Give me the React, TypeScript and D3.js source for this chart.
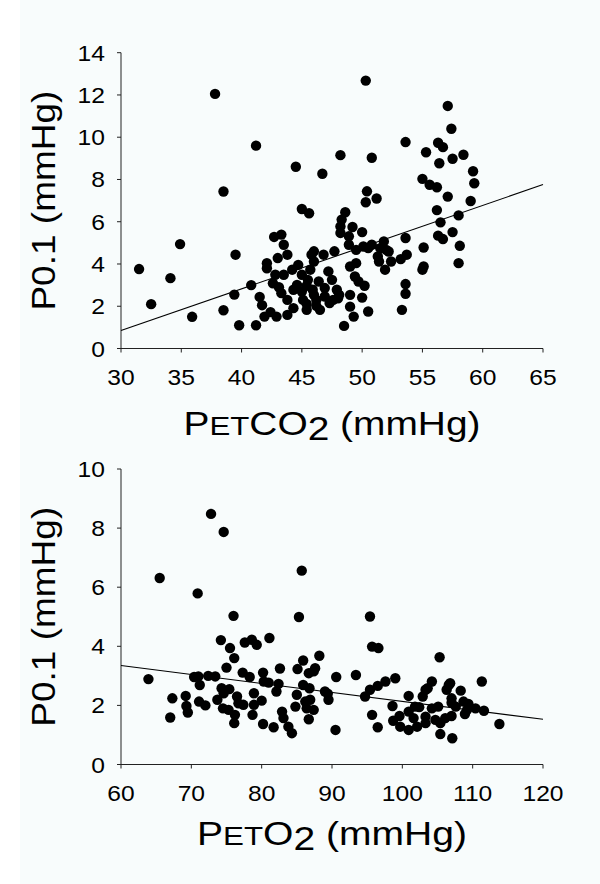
import React from "react";
import * as d3 from "d3";

// ---------- data ----------
// Top panel: PETCO2 (mmHg) vs P0.1 (mmHg)
const co2X = [
  37.8, 41.2, 44.5, 46.7, 48.2, 38.5,
  50.3, 57.1, 57.4, 53.6, 56.3, 56.7, 55.3, 57.5, 58.4, 56.4, 50.8, 55.0, 55.6, 56.2, 59.2, 59.3, 57.1, 59.0, 50.4, 51.2, 50.3, 45.0, 45.6, 48.6, 56.2,
  31.5, 32.5, 34.1, 34.9, 35.9, 38.5, 39.4, 39.5, 39.8, 40.8, 41.2, 41.5, 41.7, 41.9, 42.1, 42.1, 42.4, 42.6, 42.7, 42.8, 42.9, 43.0, 43.1, 43.3, 43.3, 43.5, 43.8, 43.8, 43.8, 43.5, 44.2, 44.3, 44.3, 44.6, 44.7, 45.0, 45.1, 45.4, 45.5, 45.7, 45.8, 45.9, 46.0, 46.2, 46.4, 46.5, 46.8, 46.9, 47.2, 47.3, 47.5, 47.7, 47.9, 48.0, 48.2, 48.2, 48.3, 48.5, 48.9, 48.9, 49.0, 49.0, 49.0, 49.2, 49.3, 49.4, 49.5,
  50.0, 50.1, 50.8, 50.5, 46.0, 49.5, 49.7, 50.2, 45.4, 46.9, 45.0, 48.1, 46.0, 47.6, 50.0, 45.4, 46.2, 50.5, 51.8, 52.0, 51.5, 51.3, 51.4, 52.2, 52.4, 51.9, 53.6, 53.2, 53.7, 53.6, 53.6, 53.3, 55.1, 55.1, 55.0, 56.5, 56.3, 56.7, 57.5, 58.0, 58.1, 58.0,
];
const co2Y = [
  12.05, 9.6, 8.6, 8.27, 9.15, 7.43,
  12.68, 11.48, 10.4, 9.77, 9.74, 9.53, 9.29, 8.98, 9.17, 8.77, 9.03, 8.03, 7.75, 7.63, 8.39, 7.82, 7.19, 6.98, 7.44, 7.1, 6.92, 6.6, 6.4, 6.45, 6.55,
  3.76, 2.1, 3.33, 4.94, 1.5, 1.81, 2.55, 4.44, 1.1, 3.0, 1.1, 2.44, 2.05, 1.51, 4.04, 3.8, 1.72, 3.09, 5.28, 3.49, 1.51, 4.28, 2.9, 5.39, 2.62, 4.91, 2.3, 1.59, 4.44, 3.49, 3.73, 1.91, 2.78, 3.01, 3.96, 3.49, 2.3, 1.83, 3.25, 3.73, 4.44, 2.78, 4.12, 2.3, 3.17, 1.83, 4.44, 2.46, 3.65, 2.15, 3.25, 4.6, 2.78, 2.38, 5.78, 5.47, 6.1, 1.07, 5.31, 4.91, 3.88, 2.54, 1.98, 5.75, 1.51, 3.41, 4.67,
  5.51, 4.83, 4.91, 4.75, 4.6, 4.04, 3.17, 2.97, 2.97, 2.86, 2.7, 2.54, 2.54, 2.3, 2.41, 2.11, 2.02, 1.75, 5.07, 4.67, 4.75, 4.36, 4.12, 4.59, 4.12, 3.73, 5.23, 4.23, 4.44, 3.05, 2.59, 1.83, 4.78, 3.88, 3.73, 5.97, 5.34, 5.18, 5.51, 6.3, 4.86, 4.04,
];
// fitted line of the top panel, read at the two ends of the x axis
const co2FitX = [30, 65];
const co2FitY = [0.85, 7.76];
const co2XTicks = [30, 35, 40, 45, 50, 55, 60, 65];
const co2YTicks = [0, 2, 4, 6, 8, 10, 12, 14];

// Bottom panel: PETO2 (mmHg) vs P0.1 (mmHg)
const o2X = [
  72.8, 74.6, 65.5, 70.9, 85.7, 76.0, 85.3, 74.2, 75.5, 77.6, 78.6, 79.3, 81.1,
  76.1, 75.0, 63.9, 70.4, 71.0, 71.2, 72.4, 73.4, 69.2, 67.3, 69.3, 69.5, 67.0, 71.1, 72.0, 74.3, 74.6, 75.4, 73.7, 74.5, 75.3, 76.5, 76.7, 76.2, 76.1, 77.4, 77.3, 78.3, 78.9, 78.9, 78.7, 80.0, 80.2, 80.3, 81.0, 82.1, 82.4, 82.6, 80.2, 81.7, 82.9, 83.1, 83.8, 84.3, 84.8, 85.0, 85.1, 85.9, 85.9, 86.2, 86.4, 86.7, 86.8, 86.9, 86.7, 87.4, 87.4, 87.6, 88.2, 89.0, 89.5, 90.5, 90.6, 89.4,
  95.4, 95.7, 96.6, 105.3, 93.4, 94.7, 95.4, 96.5, 97.6, 99.0, 95.7, 96.5, 98.6, 98.7, 99.6, 99.7, 100.9, 100.9, 100.9, 101.6, 101.8, 102.4, 102.1, 102.9, 103.3, 103.6, 104.2, 104.2, 103.3, 103.3, 105.1, 104.7, 105.4, 105.4, 106.1, 106.3, 106.6, 106.8, 107.0, 107.0, 107.0, 107.1, 107.6, 108.3, 108.7, 108.9, 109.2, 109.4, 110.4, 111.3, 111.6, 113.8,
];
const o2Y = [
  8.48, 7.87, 6.31, 5.79, 6.56, 5.03, 4.99, 4.21, 3.94, 4.13, 4.22, 4.05, 4.28,
  3.6, 3.28, 2.89, 2.96, 2.98, 2.69, 3.0, 2.98, 2.32, 2.24, 1.98, 1.76, 1.59, 2.13, 2.0, 2.58, 2.41, 2.55, 2.19, 1.9, 1.85, 2.3, 2.07, 1.68, 1.4, 2.02, 3.11, 2.96, 2.41, 2.02, 1.68, 2.16, 3.11, 2.81, 2.77, 2.47, 2.73, 3.25, 1.37, 1.26, 1.79, 1.57, 1.28, 1.06, 1.96, 2.36, 3.23, 3.52, 2.69, 2.13, 1.9, 3.09, 2.58, 2.19, 1.53, 1.85, 3.15, 3.26, 3.68, 2.47, 2.19, 1.17, 2.96, 2.4,
  5.01, 3.99, 3.94, 3.63, 3.03, 2.3, 2.53, 2.66, 2.81, 2.92, 1.68, 1.26, 1.98, 1.48, 1.64, 1.28, 2.32, 1.79, 1.17, 1.57, 1.96, 1.94, 1.28, 2.3, 2.53, 2.58, 2.81, 1.9, 1.62, 1.4, 1.96, 1.51, 1.4, 1.03, 1.57, 2.53, 2.69, 2.75, 2.24, 2.09, 1.64, 0.89, 1.96, 2.5, 2.13, 1.71, 1.85, 2.05, 1.9, 2.81, 1.82, 1.37,
];
const o2FitX = [60, 120];
const o2FitY = [3.35, 1.53];
const o2XTicks = [60, 70, 80, 90, 100, 110, 120];
const o2YTicks = [0, 2, 4, 6, 8, 10];

// ---------- drawing ----------
const FONT = "'Liberation Sans', Arial, Helvetica, sans-serif";
const STRETCH = 1.12;
const AXIS = "#222";

type PanelProps = {
  xs: number[];
  ys: number[];
  fitX: number[];
  fitY: number[];
  xTicks: number[];
  yTicks: number[];
  xDomain: [number, number];
  yDomain: [number, number];
  top: number;
  bottom: number;
  xTitleY: number;
  xTitleLen: number;
  xTitleMiddle: string;
};

function Panel(p: PanelProps) {
  const left = 121;
  const right = 543;
  const x = d3.scaleLinear().domain(p.xDomain).range([left, right]);
  const y = d3.scaleLinear().domain(p.yDomain).range([p.bottom, p.top]);
  const cy = (p.top + p.bottom) / 2;
  const cx = (left + right) / 2;
  const lineGen = d3
    .line<number>()
    .x((_, i) => x(p.fitX[i]))
    .y((_, i) => y(p.fitY[i]));
  return (
    <g fontFamily={FONT} fill="#000">
      {/* axes */}
      <line x1={left} x2={left} y1={p.top} y2={p.bottom} stroke={AXIS} strokeWidth={1} />
      <line x1={left} x2={right} y1={p.bottom} y2={p.bottom} stroke={AXIS} strokeWidth={1} />
      {p.yTicks.map((t) => (
        <g key={"y" + t}>
          <line x1={left - 4} x2={left} y1={y(t)} y2={y(t)} stroke={AXIS} strokeWidth={1} />
          <text
            transform={`translate(105,${y(t) + 8}) scale(${STRETCH},1)`}
            textAnchor="end"
            fontSize={22}
          >
            {t}
          </text>
        </g>
      ))}
      {p.xTicks.map((t) => (
        <g key={"x" + t}>
          <line x1={x(t)} x2={x(t)} y1={p.bottom} y2={p.bottom + 4} stroke={AXIS} strokeWidth={1} />
          <text
            transform={`translate(${x(t)},${p.bottom + 36.5}) scale(${STRETCH},1)`}
            textAnchor="middle"
            fontSize={22}
          >
            {t}
          </text>
        </g>
      ))}
      {/* fitted line */}
      <path d={lineGen(p.fitX) || ""} fill="none" stroke="#000" strokeWidth={1.1} />
      {/* points */}
      {p.xs.map((v, i) => (
        <circle key={i} cx={x(v)} cy={y(p.ys[i])} r={5.2} fill="#000" />
      ))}
      {/* titles */}
      <text
        transform={`translate(55,${cy}) rotate(-90)`}
        textAnchor="middle"
        fontSize={34}
        textLength={220}
        lengthAdjust="spacingAndGlyphs"
      >
        P0.1 (mmHg)
      </text>
      <text
        x={cx}
        y={p.xTitleY}
        textAnchor="middle"
        fontSize={33}
        textLength={p.xTitleLen}
        lengthAdjust="spacingAndGlyphs"
        style={{ whiteSpace: "pre" }}
      >
        <tspan>P</tspan>
        <tspan fontSize={26.5}>ET</tspan>
        <tspan>{p.xTitleMiddle}</tspan>
        <tspan dy={5}>2</tspan>
        <tspan dy={-5}>{" (mmHg)"}</tspan>
      </text>
    </g>
  );
}

export default function App() {
  return (
    <svg
      width={600}
      height={884}
      viewBox="0 0 600 884"
      style={{ position: "absolute", left: 0, top: 0, display: "block" }}
    >
      <rect x={0} y={0} width={600} height={884} fill="#ffffff" />
      <rect x={20} y={0} width={580} height={884} fill="#f8fcfc" />
      <Panel
        xs={co2X}
        ys={co2Y}
        fitX={co2FitX}
        fitY={co2FitY}
        xTicks={co2XTicks}
        yTicks={co2YTicks}
        xDomain={[30, 65]}
        yDomain={[0, 14]}
        top={52.7}
        bottom={348.5}
        xTitleY={435}
        xTitleLen={297}
        xTitleMiddle="CO"
      />
      <Panel
        xs={o2X}
        ys={o2Y}
        fitX={o2FitX}
        fitY={o2FitY}
        xTicks={o2XTicks}
        yTicks={o2YTicks}
        xDomain={[60, 120]}
        yDomain={[0, 10]}
        top={469}
        bottom={764.5}
        xTitleY={845}
        xTitleLen={270}
        xTitleMiddle="O"
      />
    </svg>
  );
}
